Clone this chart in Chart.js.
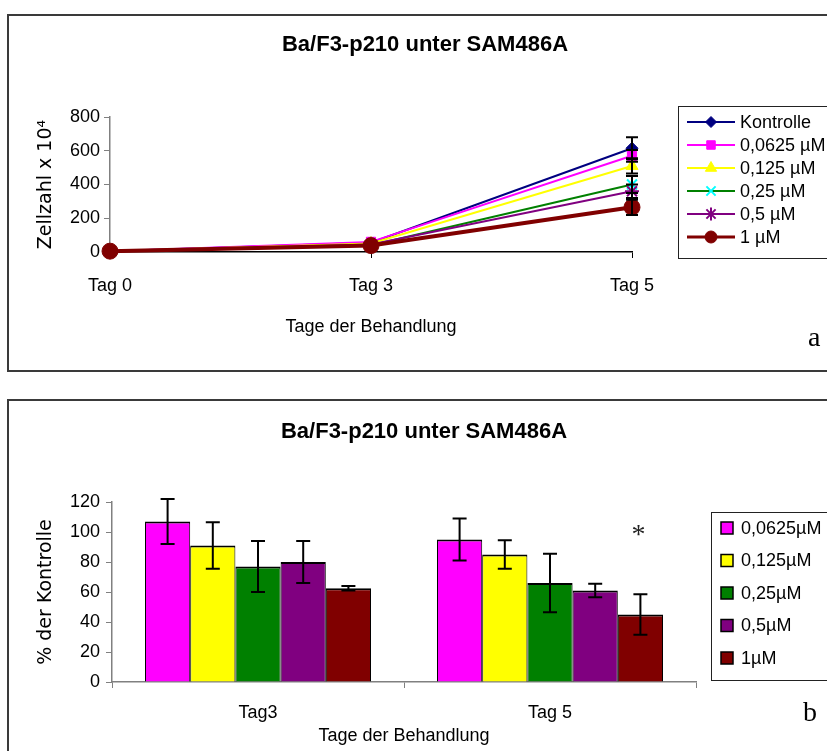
<!DOCTYPE html>
<html>
<head>
<meta charset="utf-8">
<script src="https://cdn.jsdelivr.net/npm/chart.js"></script>
<style>
html,body{margin:0;padding:0;background:#fff;width:827px;height:751px;overflow:hidden;position:relative;}
.panel{position:absolute;box-sizing:border-box;border:2px solid #3a3a3a;}
canvas{position:absolute;left:0;}
.tag{position:absolute;font-family:"Liberation Serif","Times New Roman",serif;font-size:28px;line-height:28px;color:#000;}
</style>
</head>
<body>
<div class="panel" style="left:7px;top:14px;width:840px;height:358px"></div>
<div class="panel" style="left:7px;top:399px;width:840px;height:400px"></div>
<canvas id="lineChart" width="827" height="380" style="top:0"></canvas>
<canvas id="barChart" width="827" height="371" style="top:380px"></canvas>
<div class="tag" style="left:808px;top:323px">a</div>
<div class="tag" style="left:803px;top:698px">b</div>
<script>
// ---------- texts ----------
const chartTitle = 'Ba/F3-p210 unter SAM486A';
const xAxisTitle = 'Tage der Behandlung';
const lineYAxisTitle = 'Zellzahl x 10\u2074';
const barYAxisTitle = '% der Kontrolle';

// ---------- panel a: line chart data ----------
const lineDays = ['Tag 0', 'Tag 3', 'Tag 5'];
const lineSeriesNames = ['Kontrolle', '0,0625 \u00b5M', '0,125 \u00b5M', '0,25 \u00b5M', '0,5 \u00b5M', '1 \u00b5M'];
const kontrolle = [5, 55, 615];
const conc00625 = [5, 60, 570];
const conc0125 = [5, 50, 510];
const conc025 = [5, 40, 400];
const conc05 = [5, 45, 360];
const conc1 = [5, 38, 265];
const kontrolleErr = [0, 0, 65];
const conc00625Err = [0, 0, 35];
const conc0125Err = [0, 0, 45];
const conc025Err = [0, 0, 50];
const conc05Err = [0, 0, 40];
const conc1Err = [0, 0, 45];
const lineYTicks = [0, 200, 400, 600, 800];

// ---------- panel b: bar chart data ----------
const barDays = ['Tag3', 'Tag 5'];
const barSeriesNames = ['0,0625\u00b5M', '0,125\u00b5M', '0,25\u00b5M', '0,5\u00b5M', '1\u00b5M'];
const bar00625 = [107, 95];
const bar0125 = [91, 85];
const bar025 = [77, 66];
const bar05 = [80, 61];
const bar1 = [62.5, 45];
const bar00625Err = [15, 14];
const bar0125Err = [15.5, 9.5];
const bar025Err = [17, 19.5];
const bar05Err = [14, 4.5];
const bar1Err = [1.5, 13.5];
const bar1Significance = ['', '*'];
const bar1SignificanceLevel = [null, 101];
const barYTicks = [0, 20, 40, 60, 80, 100, 120];

// ---------- styles ----------
const FONT = '"Liberation Sans", Arial, Helvetica, sans-serif';
const ROT_FONT = '"DejaVu Sans", Verdana, sans-serif';
Chart.defaults.font.family = FONT;
Chart.defaults.color = '#000';

const lineStyles = [
  {line: '#000080', point: '#000080', style: 'rectRot', r: 6, w: 2, pw: 1},
  {line: '#FF00FF', point: '#FF00FF', style: 'rect', r: 6.5, w: 2, pw: 1},
  {line: '#FFFF00', point: '#FFFF00', style: 'triangle', r: 7, w: 2, pw: 1},
  {line: '#008000', point: '#00FFFF', style: 'crossRot', r: 7, w: 2, pw: 2},
  {line: '#800080', point: '#800080', style: 'star', r: 7, w: 2, pw: 2},
  {line: '#800000', point: '#800000', style: 'circle', r: 8, w: 4, pw: 1}
];
const barColors = ['#FF00FF', '#FFFF00', '#008000', '#800080', '#800000'];

// ---------- plugins ----------
function drawMarker(ctx, style, r, pw, x, y) {
  if (Chart.helpers && Chart.helpers.drawPoint) {
    Chart.helpers.drawPoint(ctx, {pointStyle: style, radius: r, borderWidth: pw, rotation: 0}, x, y);
  } else {
    ctx.beginPath(); ctx.arc(x, y, r, 0, Math.PI * 2); ctx.fill();
  }
}

function makeLegendBox(cfg) {
  return {
    id: 'boxLegend',
    beforeInit(chart) {
      const box = {
        position: 'right', weight: 100, fullSize: false, options: {},
        left: 0, top: 0, right: 0, bottom: 0, width: 0, height: 0,
        update(maxW, maxH) { this.width = cfg.width; this.height = maxH; },
        isHorizontal() { return false; },
        draw() {}
      };
      Chart.layouts.addBox(chart, box);
      chart.$legendBox = box;
    },
    afterDraw(chart) {
      const ctx = chart.ctx, box = chart.$legendBox, area = chart.chartArea;
      const x0 = box.left + cfg.dx, y0 = area.top + cfg.dy;
      ctx.save();
      ctx.lineWidth = 1; ctx.strokeStyle = '#222';
      ctx.strokeRect(Math.round(x0) + 0.5, Math.round(y0) + 0.5, 300, cfg.height);
      ctx.font = '18px ' + FONT; ctx.textBaseline = 'middle'; ctx.textAlign = 'left';
      chart.data.datasets.forEach((ds, i) => {
        const y = y0 + cfg.first + i * cfg.step;
        cfg.drawItem(ctx, ds, i, x0, y);
        ctx.fillStyle = '#000';
        ctx.fillText(ds.label, x0 + cfg.textX, y + 1);
      });
      ctx.restore();
    }
  };
}

const errorBarPlugin = {
  id: 'errorBars',
  afterDatasetsDraw(chart) {
    const ctx = chart.ctx, ys = chart.scales.y;
    const cap = chart.config.type === 'bar' ? 7 : 6;
    ctx.save();
    ctx.strokeStyle = '#000'; ctx.lineWidth = 2;
    chart.data.datasets.forEach((ds, di) => {
      if (!ds.errors) return;
      const meta = chart.getDatasetMeta(di);
      meta.data.forEach((el, i) => {
        const e = ds.errors[i];
        if (!e) return;
        const v = ds.data[i];
        const px = el.x;
        const t = ys.getPixelForValue(v + e), b = ys.getPixelForValue(Math.max(0, v - e));
        ctx.beginPath();
        ctx.moveTo(px, t); ctx.lineTo(px, b);
        ctx.moveTo(px - cap, t); ctx.lineTo(px + cap, t);
        ctx.moveTo(px - cap, b); ctx.lineTo(px + cap, b);
        ctx.stroke();
      });
    });
    ctx.restore();
  }
};

const significancePlugin = {
  id: 'significance',
  afterDatasetsDraw(chart) {
    const ctx = chart.ctx, ys = chart.scales.y;
    ctx.save();
    ctx.font = '28px "Liberation Serif", "Times New Roman", serif';
    ctx.textAlign = 'center'; ctx.textBaseline = 'middle'; ctx.fillStyle = '#222';
    chart.data.datasets.forEach((ds, di) => {
      if (!ds.marks) return;
      const meta = chart.getDatasetMeta(di);
      meta.data.forEach((el, i) => {
        if (!ds.marks[i]) return;
        ctx.fillText(ds.marks[i], el.x - 2, ys.getPixelForValue(ds.markLevels[i]) + 5);
      });
    });
    ctx.restore();
  }
};

// ---------- panel a ----------
const lineSeries = [kontrolle, conc00625, conc0125, conc025, conc05, conc1];
const lineErrors = [kontrolleErr, conc00625Err, conc0125Err, conc025Err, conc05Err, conc1Err];
const lineDatasets = lineSeries.map((d, i) => {
  const s = lineStyles[i];
  return {
    label: lineSeriesNames[i], data: d, errors: lineErrors[i],
    borderColor: s.line, backgroundColor: s.point, borderWidth: s.w,
    pointStyle: s.style, pointRadius: s.r, pointBackgroundColor: s.point,
    pointBorderColor: s.point, pointBorderWidth: s.pw, tension: 0,
    clip: false, order: lineSeries.length - i
  };
});

new Chart(document.getElementById('lineChart'), {
  type: 'line',
  data: {labels: lineDays, datasets: lineDatasets},
  options: {
    responsive: false, animation: false, devicePixelRatio: 1,
    layout: {padding: {left: 23, right: 0, top: 0, bottom: 35}},
    plugins: {
      legend: {display: false}, tooltip: {enabled: false},
      title: {display: true, text: chartTitle, color: '#000',
        font: {size: 22, weight: 'bold', family: FONT}, padding: {top: 31.8, bottom: 58.8}}
    },
    scales: {
      x: {
        type: 'category', offset: false,
        grid: {drawOnChartArea: false, drawTicks: true, tickLength: 6, color: '#000'},
        border: {color: '#000', width: 1.5},
        ticks: {font: {size: 18}, color: '#000', padding: 17, maxRotation: 0, autoSkip: false},
        title: {display: true, text: xAxisTitle, color: '#000', font: {size: 18}, padding: {top: 0, bottom: 7}},
        afterFit(s) { s.height = 93; }
      },
      y: {
        min: lineYTicks[0], max: lineYTicks[lineYTicks.length - 1],
        ticks: {stepSize: lineYTicks[1] - lineYTicks[0], font: {size: 18}, color: '#000', padding: 4},
        grid: {drawOnChartArea: false, tickLength: 6, color: '#808080'},
        border: {color: '#808080', width: 1.5},
        title: {display: true, text: lineYAxisTitle, color: '#000', font: {size: 19, family: ROT_FONT}, padding: {top: 11.5, bottom: 0}},
        afterFit(s) { s.width = 87; }
      }
    }
  },
  plugins: [errorBarPlugin, makeLegendBox({
    width: 195, dx: 46, dy: -11, height: 152, first: 16, step: 23, textX: 62,
    drawItem(ctx, ds, i, x0, y) {
      const s = lineStyles[i];
      ctx.strokeStyle = s.line; ctx.lineWidth = Math.min(s.w, 3);
      ctx.beginPath(); ctx.moveTo(x0 + 9, y); ctx.lineTo(x0 + 57, y); ctx.stroke();
      ctx.fillStyle = s.point; ctx.strokeStyle = s.point; ctx.lineWidth = s.pw;
      drawMarker(ctx, s.style, s.style === 'circle' ? 6 : s.r - 0.5, s.pw, x0 + 33, y);
    }
  })]
});

// ---------- panel b ----------
const barSeries = [bar00625, bar0125, bar025, bar05, bar1];
const barErrors = [bar00625Err, bar0125Err, bar025Err, bar05Err, bar1Err];
const barDatasets = barSeries.map((d, i) => {
  const ds = {
    label: barSeriesNames[i], data: d, errors: barErrors[i],
    backgroundColor: barColors[i], borderColor: '#000',
    borderWidth: {top: 2, left: 1, right: 1, bottom: 0}, borderSkipped: false,
    categoryPercentage: 0.774, barPercentage: 1.0
  };
  if (i === barSeries.length - 1) { ds.marks = bar1Significance; ds.markLevels = bar1SignificanceLevel; }
  return ds;
});

new Chart(document.getElementById('barChart'), {
  type: 'bar',
  data: {labels: barDays, datasets: barDatasets},
  options: {
    responsive: false, animation: false, devicePixelRatio: 1,
    layout: {padding: {left: 21, right: 0, top: 0, bottom: 4}},
    plugins: {
      legend: {display: false}, tooltip: {enabled: false},
      title: {display: true, text: chartTitle, color: '#000',
        font: {size: 22, weight: 'bold', family: FONT}, padding: {top: 38.8, bottom: 56.8}}
    },
    scales: {
      x: {
        grid: {offset: true, drawOnChartArea: false, drawTicks: true, tickLength: 6, color: '#808080'},
        border: {color: '#808080', width: 1.5},
        ticks: {font: {size: 18}, color: '#000', padding: 14, maxRotation: 0},
        title: {display: true, text: xAxisTitle, color: '#000', font: {size: 18}, padding: {top: 0, bottom: 0}},
        afterFit(s) { s.height = 65; }
      },
      y: {
        min: barYTicks[0], max: barYTicks[barYTicks.length - 1],
        ticks: {stepSize: barYTicks[1] - barYTicks[0], font: {size: 18}, color: '#000', padding: 6},
        grid: {drawOnChartArea: false, tickLength: 6, color: '#808080'},
        border: {color: '#808080', width: 1.5},
        title: {display: true, text: barYAxisTitle, color: '#000', font: {size: 19, family: ROT_FONT}, padding: {top: 13.5, bottom: 0}},
        afterFit(s) { s.width = 91; }
      }
    }
  },
  plugins: [errorBarPlugin, significancePlugin, makeLegendBox({
    width: 131, dx: 15, dy: 10, height: 168, first: 16, step: 32.5, textX: 30,
    drawItem(ctx, ds, i, x0, y) {
      ctx.fillStyle = barColors[i];
      ctx.fillRect(x0 + 10, y - 6, 12, 12);
      ctx.strokeStyle = '#000'; ctx.lineWidth = 1.5;
      ctx.strokeRect(x0 + 10, y - 6, 12, 12);
    }
  })]
});
</script>
</body>
</html>
